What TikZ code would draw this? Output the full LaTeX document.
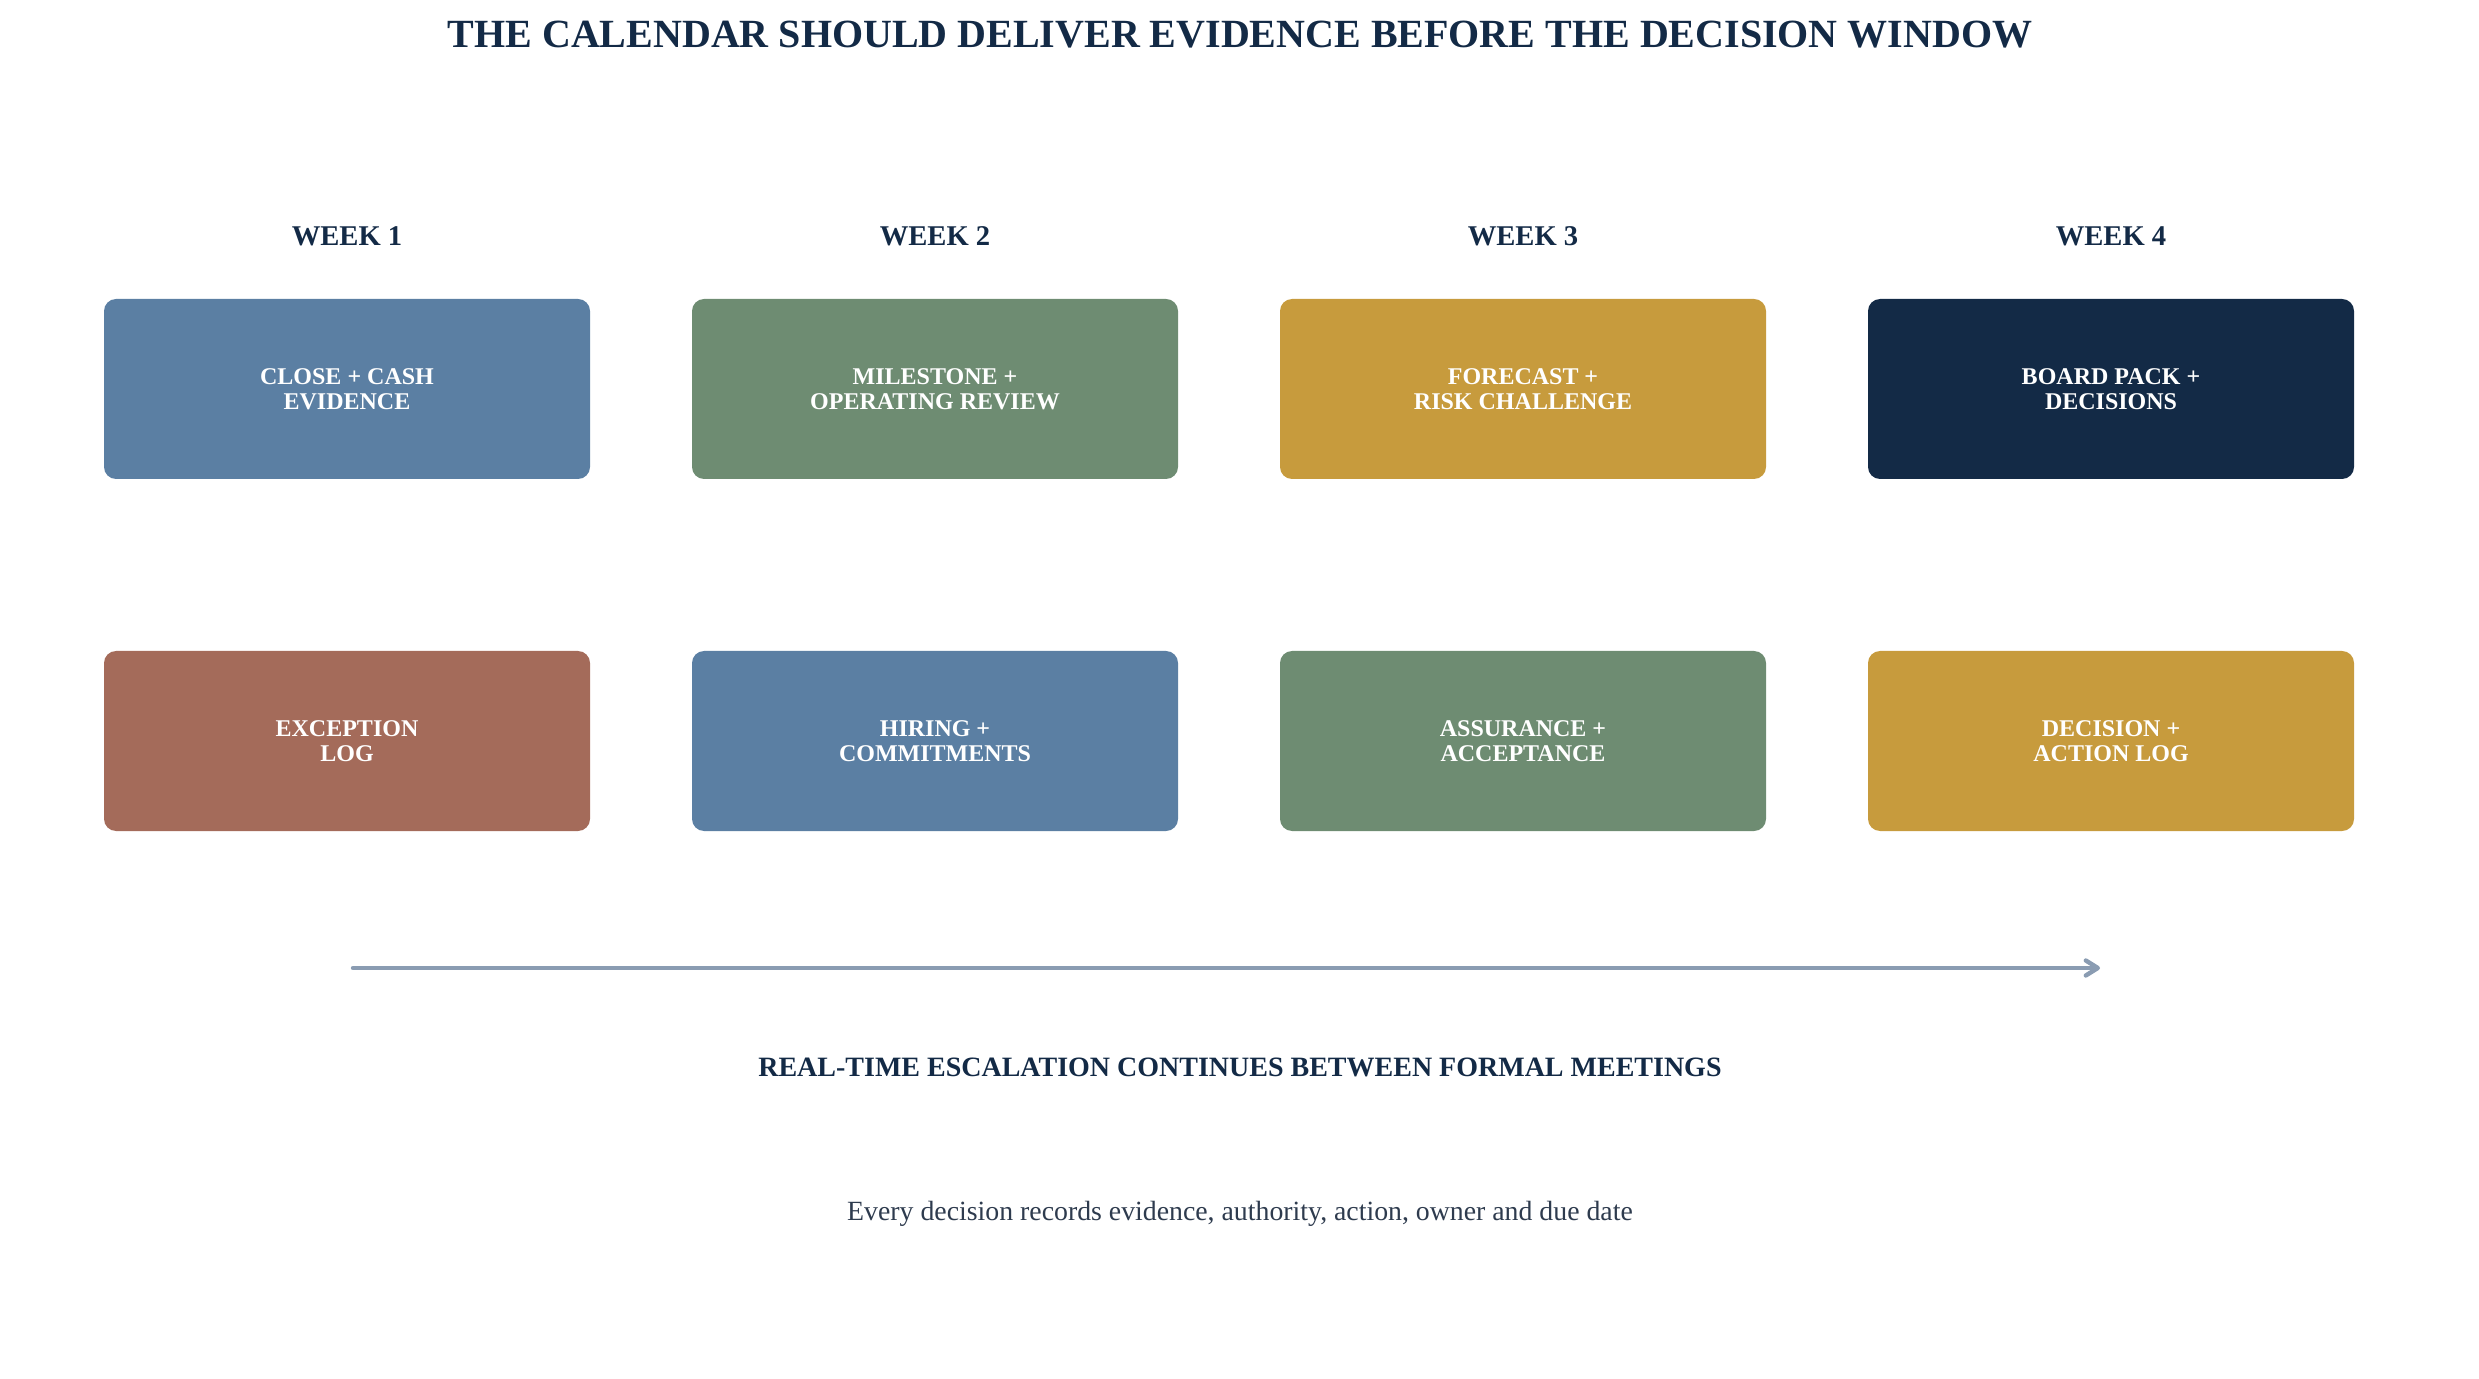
\documentclass[tikz,border=0pt]{standalone}
\usepackage{fontspec}
\setmainfont{Liberation Serif}
\usetikzlibrary{arrows.meta,positioning}
\definecolor{navy}{HTML}{132A46}
\definecolor{slateblue}{HTML}{5B7FA3}
\definecolor{sage}{HTML}{6E8C72}
\definecolor{ochre}{HTML}{C79B3D}
\definecolor{clay}{HTML}{A46B5A}
\definecolor{flowgray}{HTML}{8A9CB2}
\definecolor{notegray}{HTML}{2E3B4E}

\begin{document}
\begin{tikzpicture}[x=0.5pt,y=-0.5pt]
		\useasboundingbox (0,0) rectangle (2479,1379);
		\tikzstyle{every node}=[inner sep=0pt]
		\tikzset{TitleStyle/.style = {text=navy,font=\fontsize{20}{24}\selectfont\bfseries}}
		\tikzset{WeekStyle/.style = {text=navy,font=\fontsize{14.3}{17}\selectfont\bfseries}}
		\tikzset{BannerStyle/.style = {text=navy,font=\fontsize{14}{17}\selectfont\bfseries}}
		\tikzset{TaskStyle/.style = {rounded corners=6pt,minimum width=243pt,minimum height=90pt,
				text=white,align=center,font=\fontsize{12}{12.5}\selectfont\bfseries}}
		\tikzset{FlowStyle/.style = {draw=flowgray,line width=2.2pt,line cap=round,
				-{Straight Barb[length=6pt,width=7.5pt,line width=2.2pt,round]}}}
		% title
		\node[TitleStyle] (title) at (1240,35) {THE CALENDAR SHOULD DELIVER EVIDENCE BEFORE THE DECISION WINDOW};
		% weeks
		\node[WeekStyle] (week1) at (347,236) {WEEK 1};
		\node[WeekStyle] (week2) at (935,236) {WEEK 2};
		\node[WeekStyle] (week3) at (1523,236) {WEEK 3};
		\node[WeekStyle] (week4) at (2111,236) {WEEK 4};
		% first row
		\node[TaskStyle,fill=slateblue] (close) at (347,389) {CLOSE + CASH\\EVIDENCE};
		\node[TaskStyle,fill=sage] (milestone) at (935,389) {MILESTONE +\\OPERATING REVIEW};
		\node[TaskStyle,fill=ochre] (forecast) at (1523,389) {FORECAST +\\RISK CHALLENGE};
		\node[TaskStyle,fill=navy] (board) at (2111,389) {BOARD PACK +\\DECISIONS};
		% second row
		\node[TaskStyle,fill=clay] (exception) at (347,741) {EXCEPTION\\LOG};
		\node[TaskStyle,fill=slateblue] (hiring) at (935,741) {HIRING +\\COMMITMENTS};
		\node[TaskStyle,fill=sage] (assurance) at (1523,741) {ASSURANCE +\\ACCEPTANCE};
		\node[TaskStyle,fill=ochre] (decision) at (2111,741) {DECISION +\\ACTION LOG};
		% escalation
		\coordinate (flowstart) at (353,968);
		\coordinate (flowend) at (2100,968);
		\draw[FlowStyle] (flowstart) -- (flowend);
		\node[BannerStyle] (escalation) at (1240,1067) {REAL-TIME ESCALATION CONTINUES BETWEEN FORMAL MEETINGS};
		\node[text=notegray,font=\fontsize{13.9}{16}\selectfont] (note) at (1240,1214) {Every decision records evidence, authority, action, owner and due date};
	\end{tikzpicture}
\end{document}
